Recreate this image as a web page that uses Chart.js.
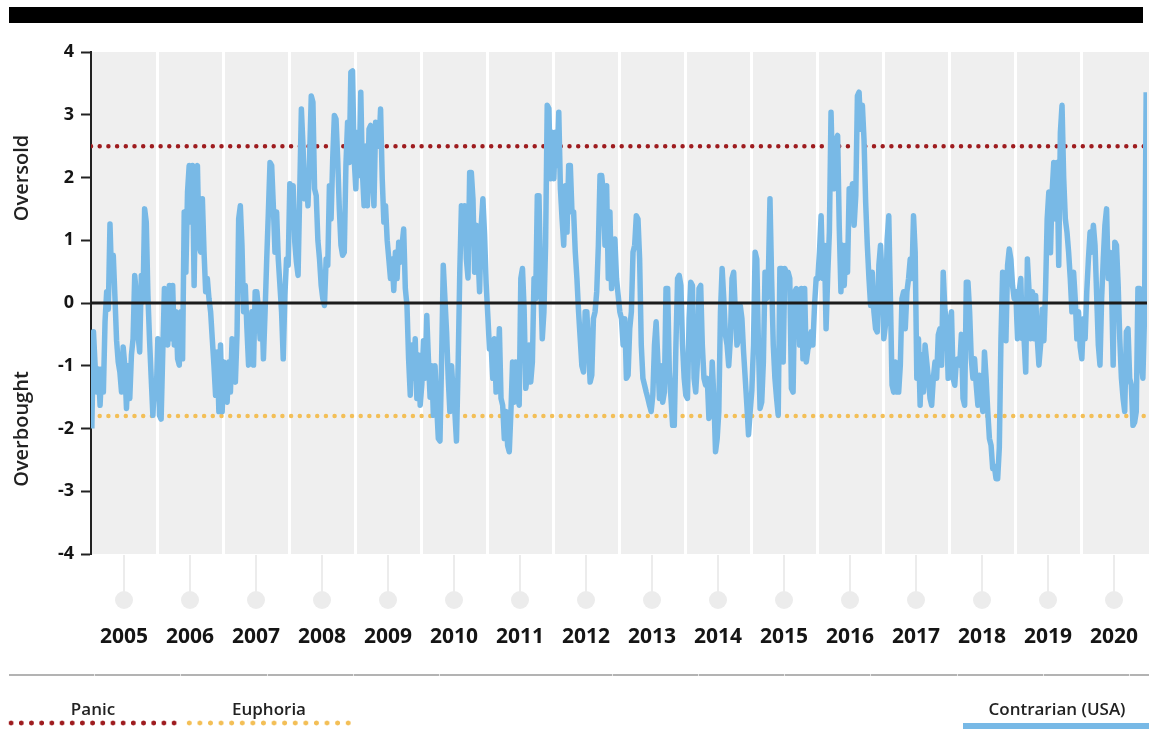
<!DOCTYPE html>
<html>
<head>
<meta charset="utf-8">
<title>Contrarian (USA)</title>
<script src="https://cdn.jsdelivr.net/npm/chart.js@4.4.1/dist/chart.umd.min.js"></script>
<style>
  body { margin: 0; background: #fff; }
  #wrap { position: relative; width: 1149px; height: 729px; overflow: hidden; font-family: 'Open Sans', 'DejaVu Sans', sans-serif; color: #222; }
  #chartBox { position: absolute; left: 0; top: 0; width: 1149px; height: 729px; }
  .topbar {
    position: absolute; left: 9px; top: 7px; width: 1134px; height: 16px;
    background: repeating-linear-gradient(90deg, #000 0px, #000 86.25px, #3c3c3c 86.25px, #3c3c3c 87.25px);
    background-size: 86.25px 16px; background-position: 1px 0;
  }
  .divider {
    position: absolute; left: 9px; top: 674px; width: 1140px; height: 2px;
    background: repeating-linear-gradient(90deg, #b3b3b3 0px, #b3b3b3 85.25px, #e6e6e6 85.25px, #e6e6e6 86.25px);
  }
  .ytitle {
    position: absolute; font-size: 20px; font-weight: 600; white-space: nowrap;
    transform: translate(-50%, -50%) rotate(-90deg); line-height: 22px;
  }
  .leg-text { position: absolute; top: 699px; font-size: 17px; line-height: 20px; font-weight: 600; white-space: nowrap; transform: translateX(-50%); }
  .dots { position: absolute; top: 720px; height: 6px; background-repeat: repeat-x; }
  .panic-dots { left: 6px; width: 174px; background-image: radial-gradient(circle at center, #9e1c1f 2.1px, rgba(255,255,255,0) 2.8px); background-size: 10.2px 6px; }
  .euph-dots { left: 184px; width: 170px; background-image: radial-gradient(circle at center, #f3bf57 2.1px, rgba(255,255,255,0) 2.8px); background-size: 10.6px 6px; }
  .blue-line { position: absolute; left: 963px; top: 723px; width: 186px; height: 6px; background: #78b9e6; }
</style>
</head>
<body>
<div id="wrap">
  <div class="topbar"></div>
  <div id="chartBox"><canvas id="sentimentChart"></canvas></div>
  <div class="ytitle" style="left:21px; top:178px;">Oversold</div>
  <div class="ytitle" style="left:21px; top:429px;">Overbought</div>
  <div class="divider"></div>
  <div class="leg-text" style="left:93px;">Panic</div>
  <div class="dots panic-dots"></div>
  <div class="leg-text" style="left:269px;">Euphoria</div>
  <div class="dots euph-dots"></div>
  <div class="leg-text" style="left:1057px;">Contrarian (USA)</div>
  <div class="blue-line"></div>
</div>
<script>
// years on the x axis
const years = [2005, 2006, 2007, 2008, 2009, 2010, 2011, 2012, 2013, 2014, 2015, 2016, 2017, 2018, 2019, 2020];

// contrarian indicator, 40 readings per year
const y2005 = [-2.0, -0.46, -1.0, -1.42, -1.05, -1.63, -1.05, -1.42, -0.3, 0.18, -0.1, 1.26, 0.39, 0.76, 0.1, -0.6, -0.94, -1.1, -1.42, -0.7,
               -1.0, -1.68, -1.0, -1.52, -0.83, -0.57, 0.44, 0.12, -0.51, -0.78, 0.44, 0.02, 1.5, 1.29, 0.12, -0.6, -1.2, -1.79, -1.26, -1.52];
const y2006 = [-0.57, -1.79, -1.85, -0.78, 0.23, -0.5, -0.67, 0.28, -0.57, 0.28, -0.67, -0.14, -0.89, -0.99, -0.14, -0.89, 1.45, 0.49, 1.77, 2.19,
               1.29, 2.19, 0.28, 2.08, 2.19, 0.92, 0.81, 1.66, 0.81, 0.18, 0.39, 0.07, -0.14, -0.57, -0.99, -1.47, -0.78, -1.73, -0.67, -1.73];
const y2007 = [-0.94, -1.52, -1.58, -0.94, -1.42, -0.57, -1.2, -1.26, -0.51, 1.34, 1.55, 0.92, -0.14, 0.28, -0.41, -0.99, -0.67, -0.14, -0.99, 0.18,
               0.18, -0.1, -0.57, -0.04, -0.89, -0.14, 0.7, 1.45, 2.24, 2.19, 1.55, 0.81, 1.45, 0.7, 0.28, -0.14, -0.89, 0.12, 0.7, 0.6];
const y2008 = [1.9, 1.34, 1.87, 0.97, 0.65, 0.44, 1.77, 3.09, 2.5, 1.66, 2.0, 1.55, 2.35, 3.3, 3.2, 1.82, 1.71, 1.0, 0.7, 0.28,
               0.07, -0.04, 0.7, 0.6, 1.87, 1.34, 2.3, 2.99, 2.93, 2.3, 1.5, 0.92, 0.76, 0.81, 2.2, 2.88, 2.24, 3.68, 3.7, 2.3];
const y2009 = [1.82, 2.72, 2.03, 3.36, 2.08, 1.55, 2.5, 1.55, 2.77, 2.83, 1.98, 1.55, 2.88, 2.77, 2.5, 3.09, 1.98, 1.29, 1.55, 1.0,
               0.7, 0.39, 0.7, 0.2, 0.81, 0.39, 0.97, 0.65, 0.92, 1.18, 0.23, -0.04, -0.9, -1.47, -0.67, -1.2, -0.57, -1.52, -0.83, -1.63];
const y2010 = [-1.3, -0.6, -1.2, -0.2, -0.9, -1.5, -1.0, -1.79, -1.0, -1.63, -2.16, -2.2, -0.9, 0.6, 0.07, -0.46, -1.2, -1.73, -1.0, -1.42,
               -1.73, -2.2, -1.0, 0.49, 1.55, 1.3, 1.55, 0.7, 0.4, 2.08, 2.08, 1.66, 0.49, 1.24, 0.8, 0.18, 1.24, 1.66, 1.1, 0.3];
const y2011 = [-0.2, -0.73, -0.67, -1.2, -0.57, -1.42, -1.2, -0.41, -1.52, -1.63, -2.16, -1.73, -2.27, -2.37, -1.73, -0.94, -1.58, -0.94, -1.42, -1.63,
               0.39, 0.55, -0.1, -1.36, -1.15, -0.67, -1.26, -0.94, 0.39, 0.07, 1.71, 1.71, 0.39, -0.57, -0.14, 0.92, 3.15, 3.1, 1.98, 2.72];
const y2012 = [1.98, 2.72, 2.19, 3.04, 1.82, 1.34, 0.92, 1.87, 1.13, 2.19, 2.19, 1.45, 1.45, 0.81, 0.39, -0.14, -0.57, -1.0, -1.1, -0.14,
               -0.14, -0.67, -1.26, -1.15, -0.25, -0.14, 0.18, 0.92, 2.03, 2.03, 1.77, 0.92, 1.87, 0.39, 1.45, 0.23, 0.81, 1.02, 0.39, 0.12];
const y2013 = [-0.14, -0.25, -0.67, -0.25, -1.2, -1.15, -0.41, -0.14, 0.81, 0.92, 1.39, 1.34, 0.7, -0.67, -1.2, -1.31, -1.42, -1.52, -1.63, -1.73,
               -1.47, -0.67, -0.3, -0.89, -1.52, -1.0, -1.58, -1.42, 0.23, 0.23, -1.1, -1.52, -1.95, -1.95, -0.67, 0.39, 0.44, 0.28, -0.67, -1.2];
const y2014 = [-1.47, -1.52, -0.25, 0.33, 0.28, -1.2, -1.42, -0.94, 0.23, 0.28, -0.67, -1.2, -1.31, -1.2, -1.84, -1.73, -0.94, -1.52, -2.37, -2.16,
               -1.73, -0.14, 0.55, 0.07, -0.51, -0.67, -1.0, -0.57, 0.39, 0.49, -0.14, -0.67, -0.57, -0.04, -0.25, -0.78, -1.2, -1.63, -2.1, -1.73];
const y2015 = [-1.4, -0.67, 0.81, 0.7, -0.67, -1.68, -1.58, -0.94, 0.49, 0.07, 0.39, 1.66, 0.39, -0.67, -1.2, -1.52, -1.79, 0.55, 0.55, -0.94,
               0.55, 0.49, 0.49, 0.39, -1.36, -1.42, 0.18, 0.23, 0.18, -0.67, 0.23, -0.89, 0.23, -0.94, -0.73, -0.67, -0.46, -0.67, -0.04, 0.39];
const y2016 = [0.39, 0.81, 1.39, 0.39, 0.92, -0.41, 0.44, 1.13, 3.04, 2.0, 1.82, 2.6, 2.67, 1.2, 0.18, 0.92, 0.28, 0.92, 0.49, 1.82,
               1.6, 1.9, 1.24, 1.71, 3.3, 3.36, 2.77, 3.15, 2.6, 1.6, 0.92, 0.39, -0.04, 0.49, -0.14, -0.41, -0.46, 0.6, 0.92, 0.39];
const y2017 = [-0.57, -0.35, 1.0, 1.39, 0.07, -1.31, -1.42, -0.94, -1.42, -1.42, -0.99, 0.07, 0.18, -0.41, 0.18, 0.39, 0.7, 0.39, 1.39, 0.81,
               -1.2, -0.57, -1.63, -0.83, -1.42, -0.67, -0.94, -1.2, -1.52, -1.63, -1.2, -0.94, -1.2, -0.51, -0.41, -0.99, 0.49, -0.1, -0.3, -1.2];
const y2018 = [-0.46, -0.14, -1.2, -1.31, -0.9, -0.89, -0.99, -0.5, -1.52, -1.63, 0.33, 0.33, -0.14, -0.89, -1.2, -0.89, -1.31, -1.63, -1.15, -1.47,
               -1.73, -0.78, -1.2, -1.73, -2.16, -2.27, -2.64, -2.6, -2.8, -2.8, -2.3, -0.57, 0.49, 0.3, -0.6, 0.6, 0.86, 0.7, 0.28, 0.07];
const y2019 = [0.18, -0.57, 0.18, 0.39, -0.57, -0.57, -1.1, 0.7, 0.2, -0.57, 0.18, -0.57, 0.12, -0.57, -0.99, -0.67, -0.1, -0.6, 0.18, 1.34,
               1.77, 0.8, 1.77, 2.24, 1.34, 2.24, 0.6, 2.72, 3.15, 2.0, 1.34, 1.13, 0.81, 0.39, -0.14, 0.49, 0.07, -0.57, -0.14, -0.7];
const y2020 = [-0.89, -0.25, -0.57, 0.18, 0.7, 1.13, 0.81, 1.24, 0.92, 0.12, -0.67, -0.99, 0.07, 0.7, 1.24, 1.5, 0.39, 0.81, 0.28, -0.99,
               0.97, 0.92, 0.3, -0.57, -1.2, -1.52, -1.73, -0.46, -0.41, -1.2, -1.31, -1.95, -1.9, -1.73, 0.23, 0.23, -0.94, -1.2, -0.2, 3.36];

const contrarianByYear = [y2005, y2006, y2007, y2008, y2009, y2010, y2011, y2012, y2013, y2014, y2015, y2016, y2017, y2018, y2019, y2020];

// threshold lines
const panicLevel = 2.5;
const euphoriaLevel = -1.8;

const xStart = years[0];
const xEnd = years[years.length - 1] + 1;

// spread each year's readings across that year
const contrarianPoints = [];
years.forEach(function (yr, k) {
  const vals = contrarianByYear[k];
  vals.forEach(function (v, i) {
    contrarianPoints.push({ x: yr + (i + 0.5) / vals.length, y: v });
  });
});

function flatLine(level) {
  return [{ x: xStart, y: level }, { x: xEnd, y: level }];
}

// year boundaries get a white grid line, mid-year ticks carry the label
const xTickValues = [];
years.forEach(function (yr) { xTickValues.push(yr, yr + 0.5); });
xTickValues.push(xEnd);

const plotDecor = {
  id: 'plotDecor',
  beforeDraw(chart) {
    const a = chart.chartArea;
    const ctx = chart.ctx;
    ctx.save();
    ctx.fillStyle = '#efefef';
    ctx.fillRect(a.left, a.top, chart.width - a.left, a.bottom - a.top);
    ctx.restore();
  },
  afterDraw(chart) {
    const a = chart.chartArea;
    const ctx = chart.ctx;
    const xs = chart.scales.x;
    ctx.save();
    ctx.strokeStyle = '#ececec';
    ctx.fillStyle = '#ececec';
    ctx.lineWidth = 2;
    years.forEach(function (yr) {
      const px = xs.getPixelForValue(yr + 0.5);
      ctx.beginPath();
      ctx.moveTo(px, a.bottom + 1);
      ctx.lineTo(px, a.bottom + 38);
      ctx.stroke();
      ctx.beginPath();
      ctx.arc(px, a.bottom + 46, 9, 0, Math.PI * 2);
      ctx.fill();
    });
    ctx.restore();
  }
};

Chart.defaults.font.family = "'Open Sans', 'DejaVu Sans', sans-serif";

const ctx = document.getElementById('sentimentChart').getContext('2d');
const myChart = new Chart(ctx, {
  type: 'line',
  data: {
    datasets: [
      {
        label: 'zero',
        data: flatLine(0),
        borderColor: '#1b1b1b',
        borderWidth: 3
      },
      {
        label: 'Contrarian (USA)',
        data: contrarianPoints,
        borderColor: '#78b9e6',
        borderWidth: 5.5,
        borderJoinStyle: 'round'
      },
      {
        label: 'Panic',
        data: flatLine(panicLevel),
        borderColor: '#9e1c1f',
        borderWidth: 4.5,
        borderDash: [0, 8.7],
        borderCapStyle: 'round'
      },
      {
        label: 'Euphoria',
        data: flatLine(euphoriaLevel),
        borderColor: '#f3bf57',
        borderWidth: 4.5,
        borderDash: [0, 8.7],
        borderCapStyle: 'round'
      }
    ]
  },
  options: {
    responsive: true,
    maintainAspectRatio: false,
    animation: false,
    devicePixelRatio: 1,
    layout: { padding: { top: 52, right: 2, bottom: 0, left: 0 } },
    elements: { point: { radius: 0 }, line: { tension: 0, fill: false } },
    plugins: { legend: { display: false }, tooltip: { enabled: false } },
    scales: {
      x: {
        type: 'linear',
        min: xStart,
        max: xEnd,
        afterBuildTicks: function (scale) {
          scale.ticks = xTickValues.map(function (v) { return { value: v }; });
        },
        afterFit: function (scale) { scale.height = 175; },
        border: { display: false },
        grid: {
          drawTicks: true,
          tickLength: 68,
          tickColor: 'rgba(0,0,0,0)',
          lineWidth: 3,
          color: function (c) {
            const v = c.tick ? c.tick.value : null;
            return (v !== null && Number.isInteger(v) && v > xStart && v < xEnd) ? '#ffffff' : 'rgba(0,0,0,0)';
          }
        },
        ticks: {
          autoSkip: false,
          maxRotation: 0,
          minRotation: 0,
          padding: 2,
          color: '#151515',
          font: { size: 21, weight: 'bold' },
          callback: function (v) { return (v % 1 === 0.5) ? String(v - 0.5) : ''; }
        }
      },
      y: {
        min: -4,
        max: 4,
        afterFit: function (scale) { scale.width = 91; },
        border: { display: true, color: '#222', width: 2 },
        grid: { drawOnChartArea: false, drawTicks: true, tickLength: 10, tickColor: '#222', tickWidth: 2 },
        ticks: { stepSize: 1, padding: 7, color: '#151515', font: { size: 18, weight: 'bold' } }
      }
    }
  },
  plugins: [plotDecor]
});
</script>
</body>
</html>
